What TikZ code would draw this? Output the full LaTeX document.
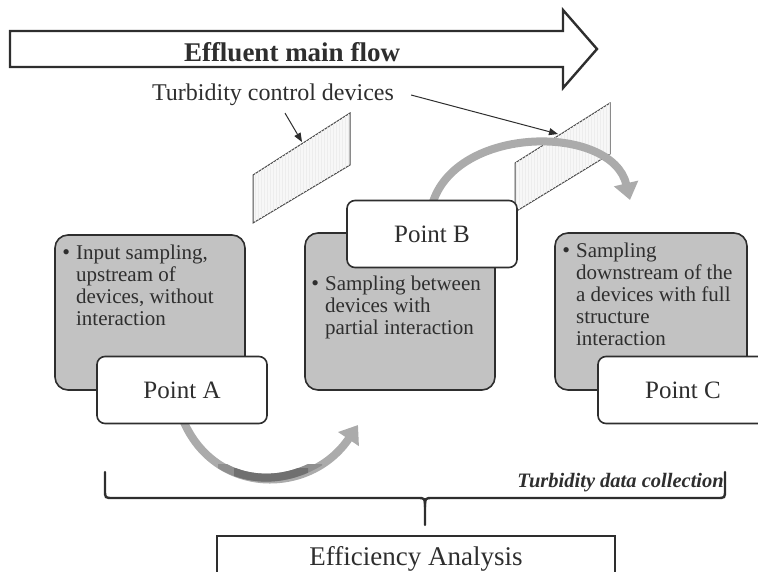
\documentclass[tikz,border=0pt]{standalone}
\usepackage{fontspec}
\setmainfont{Liberation Serif}
\usepackage{tikz}
\usetikzlibrary{positioning,arrows.meta,patterns}
\usepackage{xcolor}

\colorlet{ink}{black!82}
\colorlet{boxgray}{black!24}
\colorlet{flowgray}{black!33}

% bullet with its lines
\newcommand{\bulletlines}[1]{%
  \begin{tabular}[t]{@{}l@{\hspace{6pt}}l@{}}%
    \raisebox{0.5pt}{\fontsize{22}{22}\selectfont\textbullet} &
    \begin{tabular}[t]{@{}l@{}}#1\end{tabular}%
  \end{tabular}}

\begin{document}
\begin{tikzpicture}[
  x=1pt, y=-1pt,
  every node/.style={text=ink},
  mainflow/.style={draw=ink, line width=2.4pt, fill=white, line join=miter},
  gbox/.style={draw=ink, line width=1.6pt, fill=boxgray, rounded corners=13pt, inner sep=0pt},
  pbox/.style={draw=ink, line width=1.6pt, fill=white, rounded corners=8pt,
    minimum width=170pt, minimum height=67pt, font=\fontsize{25}{28}\selectfont},
  btext/.style={inner sep=0pt, anchor=north west, font=\fontsize{21}{22}\selectfont},
  device/.style={draw=ink!85, line width=1pt, fill=black!3,
    postaction={pattern=vertical lines, pattern color=black!7}},
  pointer/.style={draw=ink, line width=1pt, -{Triangle[length=9pt,width=7pt]}},
  swing/.style={draw=flowgray, line width=8pt, -{Triangle[length=17pt,width=24pt]}},
  brace/.style={draw=ink, line width=2.4pt, line cap=round}
]
  \useasboundingbox (0,0) rectangle (758,572);
  \clip (0,0) rectangle (758,572);

  % Main flow arrow
  \draw[mainflow] (10,31) -- (563,31) -- (563,10) -- (597,49) -- (563,88)
    -- (563,67) -- (10,67) -- cycle;
  \node[font=\bfseries\fontsize{27}{29}\selectfont, anchor=base] (flow) at (292,62) {Effluent main flow};

  % Turbidity control devices
  \draw[device] (253,175) -- (350,113) -- (350,165) -- (253,223) -- cycle;
  \draw[device] (515,163) -- (610,103) -- (610,154) -- (515,212) -- cycle;
  \coordinate (hit1) at (302,142);
  \coordinate (hit2) at (558,134);
  \node[font=\fontsize{24}{26}\selectfont, inner sep=2pt] (devices) at (273,95) {Turbidity control devices};
  \draw[pointer] ([xshift=12pt,yshift=-5pt]devices.south) -- (hit1);
  \draw[pointer] ([xshift=15pt]devices.east) -- (hit2);

  % Flow between sampling points
  \draw[swing] (183,420) .. controls (215,496) and (310,496) .. (358,425);
  \begin{scope}
    \clip (218,464) rectangle (322,500);
    \draw[draw=black!44, line width=8pt] (183,420) .. controls (215,496) and (310,496) .. (358,425);
  \end{scope}
  \begin{scope}
    \clip (234,468) rectangle (308,500);
    \draw[draw=black!56, line width=8pt] (183,420) .. controls (215,496) and (310,496) .. (358,425);
  \end{scope}
  \draw[swing] (432,205) .. controls (455,124) and (612,124) .. (630,200);

  % Sampling boxes
  \node[gbox, minimum width=190pt, minimum height=155pt] (boxA) at (150,312.5) {};
  \node[btext, below right=10pt and 8pt of boxA.north west] (noteA)
    {\bulletlines{Input sampling,\\upstream of\\devices, without\\interaction}};
  \node[gbox, minimum width=190pt, minimum height=157pt] (boxB) at (400,311.5) {};
  \node[btext, below right=43pt and 7pt of boxB.north west] (noteB)
    {\bulletlines{Sampling between\\devices with\\partial interaction}};
  \node[gbox, minimum width=192pt, minimum height=157pt] (boxC) at (651,311.5) {};
  \node[btext, below right=10pt and 8pt of boxC.north west] (noteC)
    {\bulletlines{Sampling\\downstream of the\\a devices with full\\structure\\interaction}};

  % Points
  \node[pbox] (ptA) at (182,390) {Point A};
  \node[pbox] (ptB) at (432,234) {Point B};
  \node[pbox] (ptC) at (683,390) {Point C};

  % Data collection brace
  \draw[brace] (105,472) -- (105,490) .. controls (105,498) .. (113,498) -- (417,498)
    .. controls (425,498) .. (425,507) -- (425,525);
  \draw[brace] (425,507) .. controls (425,498) .. (433,498) -- (717,498)
    .. controls (725,498) .. (725,490) -- (725,472);
  \node[font=\bfseries\itshape\fontsize{20.5}{22}\selectfont, anchor=base east, inner sep=0pt]
    (collect) at (724,487) {Turbidity data collection};

  \node[draw=ink, line width=2.4pt, minimum width=398pt, minimum height=46pt, anchor=north,
    font=\fontsize{27}{30}\selectfont] (analysis) at (416,535) {Efficiency Analysis};
\end{tikzpicture}
\end{document}
